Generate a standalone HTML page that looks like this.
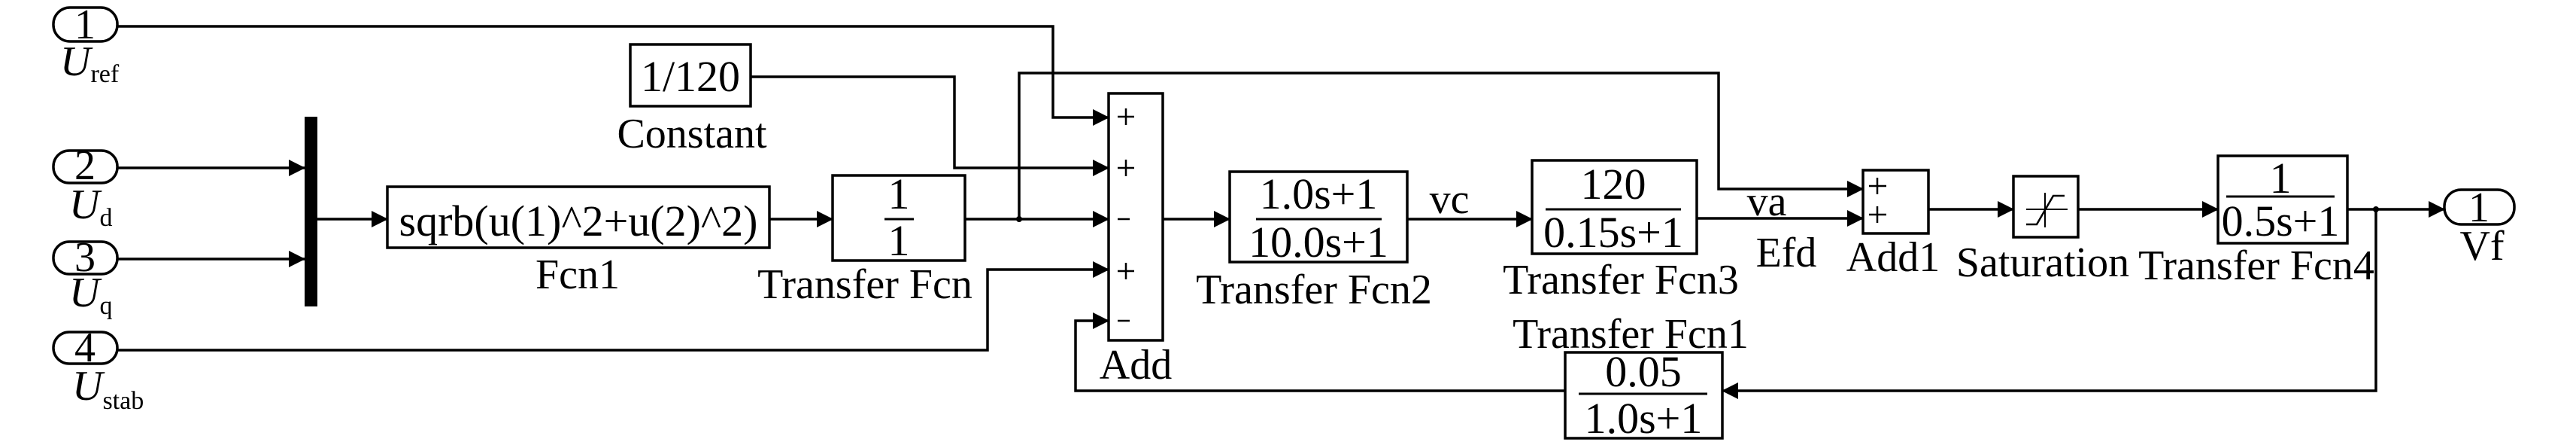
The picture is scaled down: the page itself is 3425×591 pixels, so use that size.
<!DOCTYPE html>
<html><head><meta charset="utf-8"><style>
html,body{margin:0;padding:0;background:#fff;}
svg{display:block;}
text{font-family:"Liberation Serif",serif;fill:#000;}
</style></head><body>
<svg width="3425" height="591" viewBox="0 0 3425 591" xmlns="http://www.w3.org/2000/svg">
<defs>
<marker id="a" markerWidth="22" markerHeight="22" refX="21" refY="11" orient="auto" markerUnits="userSpaceOnUse">
<path d="M0,0 L22,11 L0,22 Z" fill="#000"/></marker>
</defs>
<g fill="none" stroke="#000" stroke-width="3.5">
<!-- ports -->
<rect x="71" y="10" width="85" height="45" rx="22"/>
<rect x="71" y="200" width="85" height="43" rx="21"/>
<rect x="71" y="321" width="85" height="43" rx="21"/>
<rect x="71" y="441" width="85" height="42" rx="21"/>
<rect x="3250" y="252" width="93" height="46" rx="22"/>
<!-- blocks -->
<rect x="838" y="59" width="160" height="82"/>
<rect x="515" y="248" width="508" height="81"/>
<rect x="1107" y="233" width="176" height="113"/>
<rect x="1474" y="124" width="72" height="328"/>
<rect x="1635" y="228" width="236" height="120"/>
<rect x="2037" y="213" width="219" height="124"/>
<rect x="2081" y="468" width="209" height="114"/>
<rect x="2477" y="226" width="87" height="84"/>
<rect x="2677" y="234" width="86" height="81"/>
<rect x="2949" y="207" width="172" height="116"/>
<!-- wires -->
<path d="M156,35 H1400 V156 H1474" marker-end="url(#a)"/>
<path d="M998,102 H1269 V223 H1474" marker-end="url(#a)"/>
<path d="M156,223 H405" marker-end="url(#a)"/>
<path d="M156,344 H405" marker-end="url(#a)"/>
<path d="M422,291 H515" marker-end="url(#a)"/>
<path d="M1023,291 H1107" marker-end="url(#a)"/>
<path d="M1283,291 H1474" marker-end="url(#a)"/>
<path d="M1355,291 V97 H2285 V251 H2477" marker-end="url(#a)"/>
<path d="M156,465 H1313 V358 H1474" marker-end="url(#a)"/>
<path d="M2081,519 H1430 V426 H1474" marker-end="url(#a)"/>
<path d="M1546,291 H1635" marker-end="url(#a)"/>
<path d="M1871,291 H2037" marker-end="url(#a)"/>
<path d="M2256,290 H2477" marker-end="url(#a)"/>
<path d="M2564,278 H2677" marker-end="url(#a)"/>
<path d="M2763,278 H2949" marker-end="url(#a)"/>
<path d="M3121,278 H3250" marker-end="url(#a)"/>
<path d="M3159,278 V519 H2290" marker-end="url(#a)"/>
<!-- fraction bars -->
<path d="M1176,291 H1215 M1670,291 H1837 M2055,278 H2235 M2099,523 H2270 M2960,261 H3104" stroke-width="3"/>
<!-- signs -->
<path d="M1486,155 H1508 M1497,144 V166 M1486,223 H1508 M1497,212 V234 M1486,291 H1502 M1486,360 H1508 M1497,349 V371 M1486,426 H1502" stroke-width="2.5"/>
<path d="M2485,247 H2508 M2496,236 V258 M2485,285 H2508 M2496,274 V296" stroke-width="2.5"/>
<!-- saturation icon -->
<path d="M2694,278 H2749 M2719,256 V302" stroke-width="2"/>
<path d="M2694,298 H2708 L2730,260 H2745" stroke-width="2.5"/>
</g>
<rect x="405" y="155" width="17" height="252" fill="#000"/>
<circle cx="1355" cy="291" r="4" fill="#000"/>
<circle cx="3159" cy="278" r="4" fill="#000"/>
<g font-size="56" text-anchor="middle">
<text x="113" y="51">1</text>
<text x="113" y="238">2</text>
<text x="113" y="360">3</text>
<text x="113" y="480">4</text>
<text x="3296" y="294">1</text>
<text x="918" y="121" font-size="58">1/120</text>
<text x="769" y="313" font-size="58">sqrb(u(1)^2+u(2)^2)</text>
<text x="1195" y="277" font-size="58">1</text>
<text x="1195" y="339" font-size="58">1</text>
<text x="1753" y="277" font-size="58">1.0s+1</text>
<text x="1753" y="341" font-size="58">10.0s+1</text>
<text x="2145" y="264" font-size="58">120</text>
<text x="2145" y="328" font-size="58">0.15s+1</text>
<text x="2185" y="513" font-size="58">0.05</text>
<text x="2185" y="575" font-size="58">1.0s+1</text>
<text x="3032" y="256" font-size="58">1</text>
<text x="3032" y="313" font-size="58">0.5s+1</text>
<text x="920" y="196">Constant</text>
<text x="768" y="383">Fcn1</text>
<text x="1150" y="396">Transfer Fcn</text>
<text x="1510" y="503">Add</text>
<text x="1747" y="403">Transfer Fcn2</text>
<text x="2155" y="390">Transfer Fcn3</text>
<text x="2168" y="462">Transfer Fcn1</text>
<text x="1927" y="283">vc</text>
<text x="2349" y="286">va</text>
<text x="2375" y="354">Efd</text>
<text x="2517" y="360">Add1</text>
<text x="2716" y="367">Saturation</text>
<text x="3000" y="371">Transfer Fcn4</text>
<text x="3300" y="345">Vf</text>
</g>
<g font-size="56">
<text x="80" y="100" font-style="italic">U<tspan font-size="34" font-style="normal" dy="9">ref</tspan></text>
<text x="92" y="290" font-style="italic">U<tspan font-size="34" font-style="normal" dy="10">d</tspan></text>
<text x="92" y="407" font-style="italic">U<tspan font-size="34" font-style="normal" dy="10">q</tspan></text>
<text x="96" y="531" font-style="italic">U<tspan font-size="34" font-style="normal" dy="12">stab</tspan></text>
</g>
</svg>
</body></html>
